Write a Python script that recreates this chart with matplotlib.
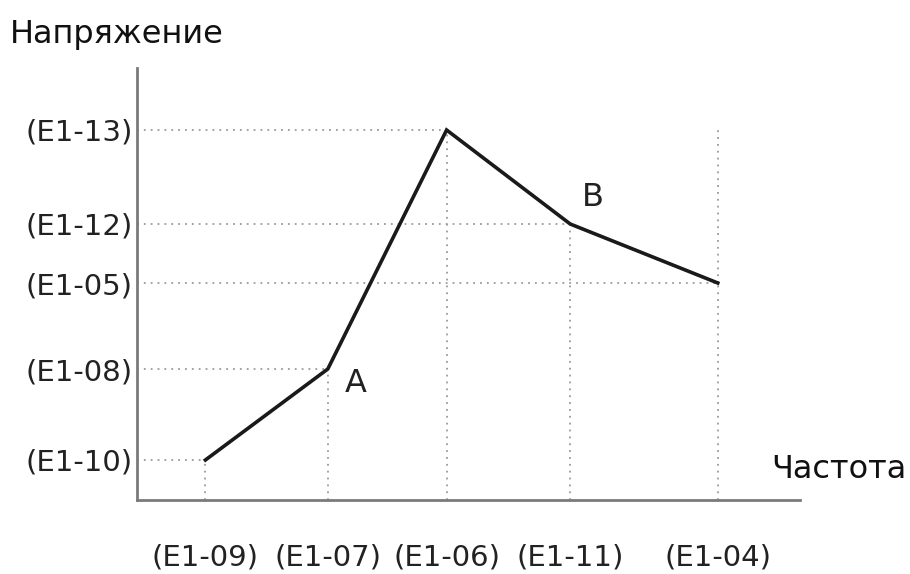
import matplotlib.pyplot as plt

# V/f curve points (frequency, voltage) in arbitrary units
freq = [0.57, 1.59, 2.58, 3.61, 4.84]
volt = [0.40, 1.31, 3.70, 2.76, 2.17]
x_labels = ["(E1-09)", "(E1-07)", "(E1-06)", "(E1-11)", "(E1-04)"]
y_labels = ["(E1-10)", "(E1-08)", "(E1-13)", "(E1-12)", "(E1-05)"]

plt.rcParams['font.family'] = ['DejaVu Sans']

fig = plt.figure(figsize=(9.10, 5.74), dpi=100)
ax = fig.add_axes([137 / 910, 74 / 574, 663 / 910, 432 / 574])
ax.set_xlim(0, 663 / 120)
ax.set_ylim(0, 4.32)

dot = dict(color="#9a9a9a", linestyle=(0, (1, 2.8)), linewidth=1.3, zorder=1)

# horizontal guides from the voltage axis to each point
for x, y in zip(freq, volt):
    ax.plot([0, x], [y, y], **dot)
# vertical guides from the frequency axis up to each point
for x, y in zip(freq, volt):
    ax.plot([x, x], [0, y], **dot)
# the E1-04 guide goes up to the top level
ax.plot([freq[4], freq[4]], [volt[4], max(volt)], **dot)

ax.plot(freq, volt, color="#1a1a1a", linewidth=2.6, zorder=3,
        solid_joinstyle="miter")

for s in ["top", "right"]:
    ax.spines[s].set_visible(False)
for s in ["left", "bottom"]:
    ax.spines[s].set_color("#7a7a7a")
    ax.spines[s].set_linewidth(2)

ax.set_xticks(freq)
ax.set_xticklabels(x_labels, fontsize=21, color="#222222")
ax.set_yticks(volt)
ax.set_yticklabels(y_labels, fontsize=21, color="#222222")
ax.tick_params(length=0)
ax.tick_params(axis="x", pad=31)
ax.tick_params(axis="y", pad=3)

ax.text(1.82, 1.17, "A", fontsize=23, ha="center", va="center", color="#222222")
ax.text(3.80, 3.03, "B", fontsize=23, ha="center", va="center", color="#222222")

fig.text(10 / 910, 1 - 35 / 574, "Напряжение", fontsize=23, va="center",
         color="#111111")
fig.text(906 / 910, 1 - 470 / 574, "Частота", fontsize=23, ha="right",
         va="center", color="#111111")

fig.savefig("out.png", dpi=100)
